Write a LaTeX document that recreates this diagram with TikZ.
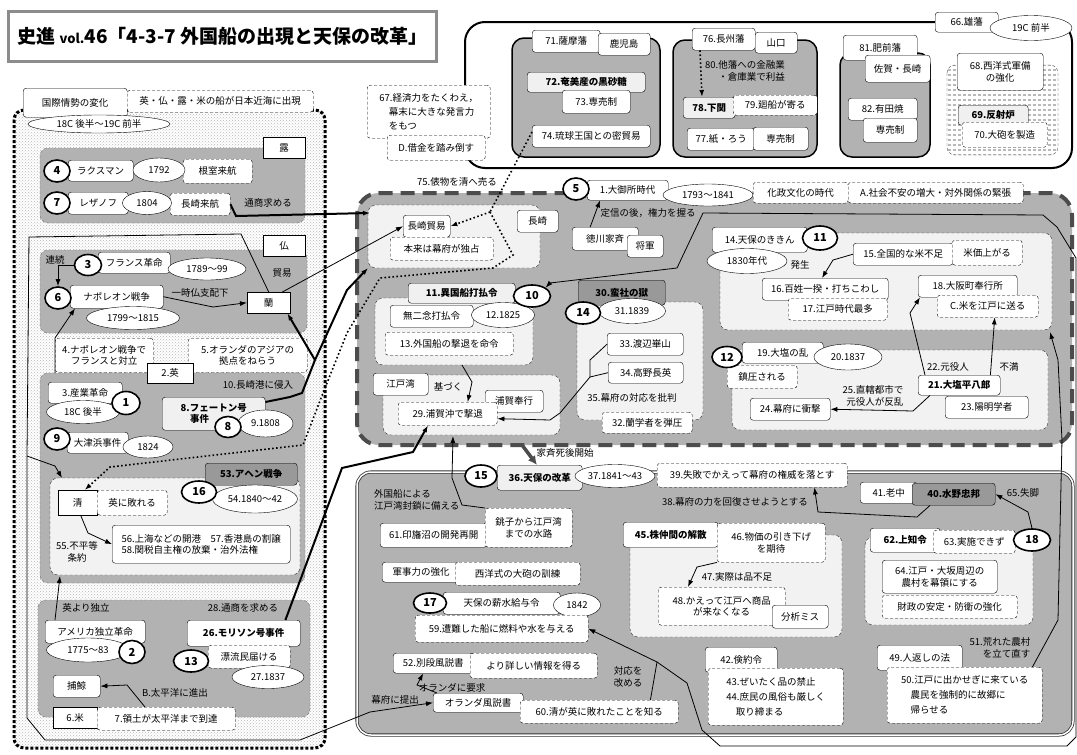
\documentclass[tikz,border=0pt]{standalone}
\usepackage{fontspec}
\setmainfont{Noto Sans CJK JP}
\usetikzlibrary{shapes.geometric,arrows.meta,patterns,patterns.meta,calc}
\newcommand{\fs}{\fontsize{9.5}{11.5}\selectfont}

\begin{document}
\begin{tikzpicture}[x=1pt,y=-1pt,
  >={Latex[length=7pt,width=5pt]},
  bw/.style 2 args={minimum width=#1pt,minimum height=#2pt},
  wb/.style={draw,fill=white,rounded corners=3pt,anchor=north west,inner sep=1pt,align=center,font=\fs},
  db/.style={wb,dash pattern=on 3pt off 2pt},
  lb/.style={wb,fill=gray!12,font=\fs\bfseries},
  gb/.style={wb,fill=gray!80,font=\fs\bfseries},
  sq/.style={wb,rounded corners=0pt},
  ov/.style={ellipse,draw,fill=white,inner sep=0pt,font=\fs},
  num/.style={ellipse,draw,line width=1.6pt,fill=white,inner sep=0pt,font=\bfseries\fontsize{11}{11}\selectfont},
  tx/.style={inner sep=1pt,align=center,font=\fs},
  panel/.style={fill=gray!60,draw=black!55,dash pattern=on 3pt off 2pt,rounded corners=8pt},
  lite/.style={fill=gray!10,draw=black!80,dash pattern=on 3pt off 2pt,rounded corners=8pt},
  han/.style={fill=gray!60,draw=black,line width=1.5pt,rounded corners=12pt},
  link/.style={line width=.8pt},
  heavy/.style={line width=2pt},
  dotline/.style={line width=1.6pt,dash pattern=on 1.6pt off 2.4pt}
]
\useasboundingbox (0,0) rectangle (1077,755);
\fill[white] (0,0) rectangle (1077,755);

% title
\node[draw=gray!90,line width=2.5pt,fill=white,anchor=north west,bw={428}{50},inner sep=0pt,font=\bfseries\fontsize{19}{19}\selectfont] (title) at (7,10)
  {史進 {\fontsize{13}{13}\selectfont vol.}46「4-3-7 外国船の出現と天保の改革」};

% left region
\draw[preaction={fill=white},pattern=crosshatch dots,pattern color=gray!55,draw=black,line width=3pt,dash pattern=on 3pt off 2pt,rounded corners=10pt] (14,110) rectangle (325,748);
\draw[panel] (40,148) rectangle (305,223);
\draw[panel] (40,250) rectangle (307,333);
\draw[panel] (40,373) rectangle (305,583);
\draw[panel] (38,600) rectangle (310,717);
\draw[lite] (50,478) rectangle (300,575);

% yuhan
\draw[fill=white,line width=2pt,rounded corners=20pt] (465,22) rectangle (1072,168);
\draw[han] (512,38) rectangle (660,157);
\draw[han] (673,40) rectangle (817,157);
\draw[han] (840,53) rectangle (930,157);
\draw[preaction={fill=white},pattern={Lines[angle=0,distance=5pt,line width=2pt]},pattern color=gray!55,draw=black!70,dash pattern=on 3pt off 2pt,rounded corners=8pt] (947,65) rectangle (1058,155);

% ogosho
\draw[fill=gray!60,draw=black!70,line width=4pt,dash pattern=on 14pt off 8pt,rounded corners=22pt] (357,193) rectangle (1072,445);
\draw[lite] (368,205) rectangle (540,268);
\draw[lite] (375,298) rectangle (533,365);
\draw[lite] (383,375) rectangle (560,435);
\draw[lite] (577,302) rectangle (703,420);
\draw[lite] (720,233) rectangle (1052,330);
\draw[lite] (732,350) rectangle (1048,430);

% tenpo
\draw[fill=gray!60,draw=black!80,double=white,double distance=1.5pt,line width=.8pt,rounded corners=14pt] (357,472) rectangle (1073,735);
\draw[lite] (630,535) rectangle (842,637);
\draw[lite] (865,537) rectangle (1033,625);

% kokusai
\node[wb,bw={104}{29}] (kokusai) at (23,88) {国際情勢の変化};
\node[db,bw={186}{22}] (shutsugen) at (127,90) {英・仏・露・米の船が日本近海に出現};
\node[ov,bw={142}{18}] (era1) at (99,124) {18C 後半～19C 前半};

% ro
\node[sq,bw={42}{21}] (ro) at (263,137) {露};
\node[wb,bw={65}{21}] (laks) at (68,160) {ラクスマン};
\node[db,bw={69}{24}] (nemuro) at (183,159) {根室来航};
\node[ov,bw={52}{24}] (y1792) at (159,170) {1792};
\node[num,bw={26}{22}] (n4) at (57,171) {4};
\node[wb,bw={60}{22}] (reza) at (68,192) {レザノフ};
\node[db,bw={60}{22}] (nagaraiko) at (170,193) {長崎来航};
\node[ov,bw={49}{23}] (y1804) at (147,203) {1804};
\node[num,bw={26}{22}] (n7) at (57,203) {7};
\node[tx] (tsusho) at (268,203) {通商求める};

% futsu
\node[sq,bw={42}{21}] (futsu) at (263,235) {仏};
\node[tx] (renzoku) at (55,260) {連続};
\node[wb,bw={72}{21}] (frrev) at (98,252) {フランス革命};
\node[ov,bw={78}{22}] (y1789) at (207,269) {1789～99};
\node[num,bw={27}{21}] (n3) at (88,265) {3};
\node[wb,bw={93}{23}] (napo) at (70,285) {ナポレオン戦争};
\node[ov,bw={93}{23}] (y1799) at (133,318) {1799～1815};
\node[num,bw={26}{22}] (n6) at (58,298) {6};
\node[tx] (shihai) at (200,293) {一時仏支配下};
\node[sq,bw={43}{21}] (ran) at (247,292) {蘭};
\node[tx] (tboeki) at (282,273) {貿易};

% ei
\node[db,bw={98}{34}] (eiA) at (55,338) {4.ナポレオン戦争で\\フランスと対立};
\node[db,bw={119}{34}] (eiB) at (188,338) {5.オランダのアジアの\\拠点をねらう};
\node[sq,bw={46}{20}] (ei) at (147,363) {2.英};
\node[wb,bw={74}{21}] (sangyo) at (48,382) {3.産業革命};
\node[ov,bw={73}{23}] (y18c) at (83,412) {18C 後半};
\node[num,bw={28}{23}] (n1) at (126,403) {1};
\node[lb,bw={103}{33},align=left] (feton) at (162,397) {8.フェートン号\\\quad 事件};
\node[ov,bw={55}{27}] (y1808) at (265.5,423.5) {9.1808};
\node[num,bw={26}{21}] (n8) at (228,427) {8};
\node[tx] (shinnyu) at (258,385) {10.長崎港に侵入};
\node[wb,bw={61}{21}] (otsu) at (67,432) {大津浜事件};
\node[ov,bw={50}{22}] (y1824) at (148,447) {1824};
\node[num,bw={26}{22}] (n9) at (57,439) {9};

% shin
\node[sq,bw={39}{25}] (shin) at (58,490) {清};
\node[db,bw={70}{25}] (yabureru) at (97,490) {英に敗れる};
\node[gb,bw={92}{22}] (ahen) at (205,463) {53.アヘン戦争};
\node[ov,bw={85}{28}] (y1840) at (255,499) {54.1840～42};
\node[num,bw={35}{22}] (n16) at (199,492) {16};
\node[wb,bw={178}{38},align=left] (joyaku) at (112,525) {56.上海などの開港\quad 57.香港島の割譲\\58.関税自主権の放棄・治外法権};
\node[tx] (fubyodo) at (77,552) {55.不平等\\条約};

% bei
\node[tx] (dokuritsu) at (86,608) {英より独立};
\node[tx] (motomeru) at (243,608) {28.通商を求める};
\node[wb,bw={100}{23}] (amerika) at (45,620) {アメリカ独立革命};
\node[ov,bw={83}{24}] (y1775) at (88,650) {1775～83};
\node[num,bw={26}{23}] (n2) at (132,652) {2};
\node[wb,bw={113}{26},font=\fs\bfseries] (morison) at (187,620) {26.モリソン号事件};
\node[db,bw={82}{23}] (hyoryu) at (208,645) {漂流民届ける};
\node[ov,bw={72}{23}] (y1837b) at (268,677) {27.1837};
\node[num,bw={35}{22}] (n13) at (191,661) {13};
\node[wb,bw={47}{22}] (hogei) at (53,675) {捕鯨};
\node[tx] (shinshutsu) at (175,693) {B.太平洋に進出};
\node[sq,bw={44}{21}] (bei) at (53,707) {6.米};
\node[db,bw={138}{23}] (ryodo) at (97,707) {7.領土が太平洋まで到達};

% yuhan nodes
\node[wb,bw={63}{20}] (yuhan) at (935,12) {66.雄藩};
\node[ov,bw={82}{25}] (y19c) at (1031,28) {19C 前半};
\node[wb,bw={68}{22}] (satsuma) at (532,30) {71.薩摩藩};
\node[wb,bw={52}{22}] (kagoshima) at (598,33) {鹿児島};
\node[lb,bw={118}{20}] (kokuzato) at (527,72) {72.奄美産の黒砂糖};
\node[wb,bw={68}{23}] (senbai1) at (562,90) {73.専売制};
\node[wb,bw={118}{22}] (ryukyu) at (532,125) {74.琉球王国との密貿易};
\node[wb,bw={63}{22}] (choshu) at (692,28) {76.長州藩};
\node[wb,bw={42}{21}] (yamaguchi) at (755,32) {山口};
\node[tx,align=right] (kinyu) at (745,71) {80.他藩への金融業\\・倉庫業で利益};
\node[lb,bw={52}{21}] (shimonoseki) at (683,97) {78.下関};
\node[db,bw={84}{20}] (kaisen) at (733,95) {79.廻船が寄る};
\node[wb,bw={68}{22}] (kami) at (687,128) {77.紙・ろう};
\node[wb,bw={55}{23}] (senbai2) at (753,127) {専売制};
\node[wb,bw={74}{25}] (hizen) at (843,35) {81.肥前藩};
\node[wb,bw={65}{27}] (saga) at (865,55) {佐賀・長崎};
\node[wb,bw={69}{22}] (arita) at (848,98) {82.有田焼};
\node[wb,bw={54}{24}] (senbai3) at (863,118) {専売制};
\node[wb,bw={86}{37}] (seiyo) at (957,53) {68.西洋式軍備\\の強化};
\node[lb,bw={70}{20}] (hansha) at (958,105) {69.反射炉};
\node[db,bw={85}{25}] (taiho) at (962,122) {70.大砲を製造};
\node[db,bw={123}{53},align=left,font=\fontsize{9.5}{14}\selectfont] (keizai) at (367,85) {67.経済力をたくわえ，\\\quad 幕末に大きな発言力\\\quad をもつ};
\node[db,bw={98}{25}] (shakkin) at (387,135) {D.借金を踏み倒す};
\node[tx] (tawara) at (457,182) {75.俵物を清へ売る};

% ogosho nodes
\node[wb,bw={41}{22}] (nagasaki) at (517,210) {長崎};
\node[wb,bw={47}{22}] (boeki) at (403,215) {長崎貿易};
\node[db,bw={103}{23}] (dokusen) at (390,237) {本来は幕府が独占};
\node[wb,bw={81}{20}] (ogosho) at (587,180) {1.大御所時代};
\node[ov,bw={90}{22}] (y1793) at (708,195) {1793～1841};
\node[num,bw={26}{22}] (n5) at (576,189) {5};
\node[db,bw={95}{21}] (kasei) at (753,182) {化政文化の時代};
\node[db,bw={175}{21}] (shakai) at (848,182) {A.社会不安の増大・対外関係の緊張};
\node[wb,bw={66}{23}] (ienari) at (572,227) {徳川家斉};
\node[wb,bw={36}{22}] (shogun) at (627,235) {将軍};
\node[tx] (sadanobu) at (648,213) {定信の後，権力を握る};

\node[wb,bw={95}{25}] (kikin) at (712,227) {14.天保のききん};
\node[ov,bw={80}{25}] (y1830) at (747,261) {1830年代};
\node[num,bw={35}{24}] (n11) at (820,238) {11};
\node[tx] (hassei) at (800,265) {発生};
\node[wb,bw={100}{22}] (kome) at (853,243) {15.全国的な米不足};
\node[db,bw={70}{25}] (beika) at (952,240) {米価上がる};
\node[wb,bw={126}{22}] (ikki) at (762,278) {16.百姓一揆・打ちこわし};
\node[db,bw={99}{22}] (saita) at (788,298) {17.江戸時代最多};
\node[wb,bw={99}{22}] (bugyo) at (918,275) {18.大阪町奉行所};
\node[db,bw={101}{22}] (edo) at (937,295) {C.米を江戸に送る};

\node[wb,bw={81}{21}] (oshio) at (742,342) {19.大塩の乱};
\node[db,bw={70}{23}] (chinatsu) at (727,365) {鎮圧される};
\node[ov,bw={68}{26}] (y1837) at (848,357) {20.1837};
\node[num,bw={30}{21}] (n12) at (727,357) {12};
\node[tx] (motoyakunin) at (948,367) {22.元役人};
\node[tx] (fuman) at (1009,367) {不満};
\node[tx,align=right] (hanran) at (873,396) {25.直轄都市で\\元役人が反乱};
\node[wb,bw={82}{20},font=\fs\bfseries] (heihachiro) at (918,375) {21.大塩平八郎};
\node[wb,bw={83}{22}] (yomei) at (945,396) {23.陽明学者};
\node[wb,bw={80}{22}] (shogeki) at (750,398) {24.幕府に衝撃};

\node[lb,bw={107}{20}] (uchiharai) at (408,283) {11.異国船打払令};
\node[wb,bw={83}{22}] (muni) at (390,305) {無二念打払令};
\node[ov,bw={63}{25}] (y1825) at (503,315) {12.1825};
\node[num,bw={37}{22}] (n10) at (532,296) {10};
\node[db,bw={128}{23}] (gekitai) at (385,332) {13.外国船の撃退を命令};
\node[wb,bw={55}{22}] (edowan) at (373,373) {江戸湾};
\node[tx] (motozuku) at (448,387) {基づく};
\node[wb,bw={58}{22}] (uraga) at (485,390) {浦賀奉行};
\node[db,bw={99}{23}] (uragaoki) at (398,402) {29.浦賀沖で撃退};

\node[gb,bw={87}{25}] (bansha) at (578,280) {30.蛮社の獄};
\node[ov,bw={67}{25}] (y1839) at (632,311) {31.1839};
\node[num,bw={35}{22}] (n14) at (583,313) {14};
\node[wb,bw={76}{22}] (watanabe) at (607,333) {33.渡辺崋山};
\node[wb,bw={75}{21}] (takano) at (608,362) {34.高野長英};
\node[tx] (hihan) at (632,398) {35.幕府の対応を批判};
\node[db,bw={90}{21}] (danatsu) at (602,412) {32.蘭学者を弾圧};

\node[tx] (shigo) at (565,453) {家斉死後開始};

% tenpo nodes
\node[lb,bw={85}{25}] (tenpo) at (497,465) {36.天保の改革};
\node[ov,bw={80}{23}] (y1841) at (615,476) {37.1841～43};
\node[num,bw={32}{22}] (n15) at (481,476) {15};
\node[db,bw={190}{24}] (shippai) at (657,463) {39.失敗でかえって幕府の権威を落とす};
\node[tx] (kaifuku) at (735,502) {38.幕府の力を回復させようとする};
\node[wb,bw={57}{21}] (roju) at (860,482) {41.老中};
\node[gb,bw={83}{22}] (mizuno) at (912,483) {40.水野忠邦};
\node[tx] (shikkyaku) at (1023,493) {65.失脚};
\node[wb,bw={70}{24},font=\fs\bfseries] (agechi) at (870,528) {62.上知令};
\node[db,bw={82}{23}] (jisshi) at (933,530) {63.実施できず};
\node[num,bw={37}{22}] (n18) at (1032,540) {18};
\node[wb,bw={115}{33}] (noson) at (882,560) {64.江戸・大坂周辺の\\農村を幕領にする};
\node[db,bw={135}{23}] (zaisei) at (882,595) {財政の安定・防衛の強化};
\node[tx,align=right] (arenoson) at (1000,648) {51.荒れた農村\\を立て直す};
\node[wb,bw={85}{25}] (hitogaeshi) at (877,645) {49.人返しの法};
\node[db,bw={155}{56},align=left,font=\fontsize{9.5}{15}\selectfont] (dekasegi) at (887,667) {50.江戸に出かせぎに来ている\\\quad 農民を強制的に故郷に\\\quad 帰らせる};
\node[wb,bw={72}{25}] (kenyaku) at (705,647) {42.倹約令};
\node[db,bw={135}{57},align=left,font=\fontsize{9.5}{15}\selectfont] (zeitaku) at (708,668) {43.ぜいたく品の禁止\\44.庶民の風俗も厳しく\\\quad 取り締まる};
\node[wb,bw={95}{25},font=\fs\bfseries] (kabu) at (623,522) {45.株仲間の解散};
\node[db,bw={108}{39}] (bukka) at (717,523) {46.物価の引き下げ\\を期待};
\node[tx] (shinabusoku) at (737,577) {47.実際は品不足};
\node[db,bw={127}{38}] (shohin) at (658,587) {48.かえって江戸へ商品\\が来なくなる};
\node[wb,bw={56}{23}] (bunseki) at (772,605) {分析ミス};

\node[tx,align=left,anchor=west] (fusa) at (373,500) {外国船による\\江戸湾封鎖に備える};
\node[wb,bw={107}{24}] (inba) at (380,523) {61.印旛沼の開発再開};
\node[db,bw={87}{39}] (suiro) at (485,508) {銚子から江戸湾\\までの水路};
\node[wb,bw={78}{20}] (gunji) at (382,562) {軍事力の強化};
\node[db,bw={125}{23}] (kunren) at (455,562) {西洋式の大砲の訓練};
\node[wb,bw={117}{22}] (shinsui) at (443,592) {天保の薪水給与令};
\node[ov,bw={47}{24}] (y1842) at (577,605) {1842};
\node[num,bw={33}{20}] (n17) at (430,603) {17};
\node[db,bw={173}{27}] (sonan) at (415,615) {59.遭難した船に燃料や水を与える};
\node[wb,bw={80}{20}] (betsudan) at (393,653) {52.別段風説書};
\node[db,bw={127}{25}] (shosai) at (470,653) {より詳しい情報を得る};
\node[tx] (yokyu) at (452,688) {オランダに要求};
\node[wb,bw={90}{19}] (fusetsu) at (433,693) {オランダ風説書};
\node[db,bw={158}{23}] (shiru) at (520,700) {60.清が英に敗れたことを知る};
\node[tx] (aratameru) at (628,677) {対応を\\改める};
\node[tx] (teishutsu) at (395,700) {幕府に提出};

% free ends
\coordinate (ngL) at (370,213);
\coordinate (ngB) at (368,268);
\coordinate (br10) at (315,360);
\coordinate (encl) at (27,456);
\coordinate (seiT) at (62,478);
\coordinate (seiB) at (60,576);
\coordinate (eiP) at (55,373);
\coordinate (tw) at (490,212);
\coordinate (uhB) at (462,365);
\coordinate (bsJ) at (590,377);
\coordinate (ewB) at (453,436);
\coordinate (tj) at (657,662);
\coordinate (kkB) at (1050,332);
\coordinate (ieD) at (522,445);

% connectors
\draw[heavy,->] (nagaraiko.east) -- (236,216) -- (ngL);
\draw[link,->] (n3.west) -| (n6.north);
\draw[link,->] (napo.east) -- (213,307) -- (ran.west);
\draw[link,->] ([xshift=-8pt]ran.north east) -- (boeki.west);
\draw[link] (ran.north) -- (241,234) -- (29,237) -- (encl);
\draw[link,->] (encl) -- (27,718) -- (45,740) -- (300,740) -- (370,712) -- (fusetsu.west);
\draw[link,->] (encl) -- (55,466) -- (seiT);
\draw[heavy] ([yshift=-5pt]feton.north east) -- (290,397) -- (302,393) -- (br10);
\draw[heavy,->] (br10) -- (347,290) -- (ngB);
\draw[heavy,->] (br10) -- ([xshift=-3pt]ran.south east);
\draw[dotline] ([yshift=-7pt]ryukyu.north west) -- (tw);
\draw[dotline,->] (tw) -- (boeki.east);
\draw[dotline,->] (tw) -- (513,255) -- (493,268) -- (380,278) -- (347,333) -- (323,393) -- (303,445) -- (110,467) -- ([xshift=7pt]shin.north);
\draw[dotline,->] ([xshift=8pt]choshu.south west) -- ([xshift=19pt]shimonoseki.north west);
\draw[link,->] (eiP) -- (55,338) -- ([xshift=5pt]napo.south west);
\draw[link,->] ([xshift=3pt]shin.south) -- (88,533) -- (joyaku.west);
\draw[link,->] ([xshift=10pt]amerika.north west) -- (seiB);
\draw[link,->] ([xshift=48pt]ryodo.north west) -- (127,685) -- (hogei.east);
\draw[heavy,->] ([xshift=-15pt]morison.north east) -- (342,468) -- (413,452) -- ([xshift=30pt]uragaoki.south west);
\draw[link,->] (uhB) -- (472,382) -- ([xshift=20pt]uragaoki.north);
\draw[link] (watanabe.west) -- (590,360) -- (bsJ);
\draw[link] (takano.west) -- (bsJ);
\draw[link,->] (bsJ) -- (560,413) -- (550,420) -- ([yshift=-5pt]uragaoki.east);
\draw[link,->] (suiro.north west) -- (462,505) -- (452,478) -- (ewB);
\draw[link,->] ([xshift=-15pt]ienari.north) -- ([xshift=13pt]ogosho.south west);
\draw[link,->] ($(shiru.north east)+(-28,0)$) -- (tj) -- (sonan.east);
\draw[link,->] (tj) -- (687,683) -- (702,730) -- (720,746) -- (1067,746) -- (1076,737) -- (1076,258) -- (1057,227) -- (1043,215) -- (703,213) -- (677,268) -- (550,283) -- (n10.north east);
\draw[link,->] (bukka.south west) -- (697,567) -- ($(shohin.north west)+(30,0)$);
\draw[link,->] ($(mizuno.south west)+(18,0)$) -- (917,517) -- (818,512) -- ($(shippai.south east)+(-33,0)$);
\draw[link,->] (n18.north) -- (1028,512) -- (mizuno.east);
\draw[link,->] ($(dekasegi.north east)+(-10,0)$) -- (1058,620) -- (1062,440) -- (1058,360) -- (kkB);
\draw[link,->] (kome.west) -- (833,260) -- ($(ikki.north west)+(60,0)$);
\draw[link,->] ($(heihachiro.south west)+(12,0)$) -- (913,411) -- (shogeki.east);
\draw[link,->] ($(heihachiro.north west)+(7,0)$) -- (910,313) -- ($(bugyo.south west)+(2,0)$);
\draw[link,->] ($(heihachiro.north east)+(-10,0)$) -- ($(edo.south)+(7,0)$);
\draw[link,->] ($(fusetsu.north west)+(4,0)$) -- (417,685) -- ($(betsudan.south)+(-10,0)$);
\draw[line width=3.5pt,draw=black!70,-{Latex[length=9pt,width=9pt]}] (ieD) -- ($(tenpo.north west)+(40,0)$);
\end{tikzpicture}
\end{document}
